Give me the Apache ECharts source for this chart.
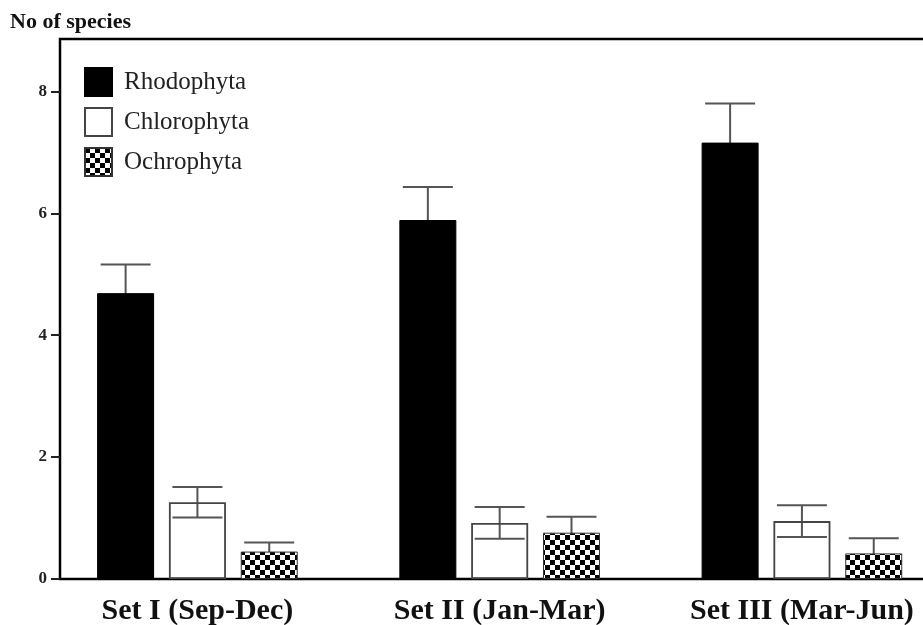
<!DOCTYPE html>
<html>
<head>
<meta charset="utf-8">
<script src="https://cdn.jsdelivr.net/npm/echarts@6/dist/echarts.min.js"></script>
<style>html,body{margin:0;padding:0;background:#fff}#c{width:923px;height:625px}</style>
</head>
<body>
<div id="c"></div>
<script>
// ---- data ----
const categories = ['Set I (Sep-Dec)', 'Set II (Jan-Mar)', 'Set III (Mar-Jun)'];
const seriesNames = ['Rhodophyta', 'Chlorophyta', 'Ochrophyta'];
const rhodophyta = [4.69, 5.89, 7.16];
const rhodophytaErr = [0.47, 0.54, 0.64];
const chlorophyta = [1.26, 0.92, 0.95];
const chlorophytaErr = [0.25, 0.26, 0.26];
const ochrophyta = [0.45, 0.76, 0.42];
const ochrophytaErr = [0.15, 0.26, 0.25];
const yTicks = [0, 2, 4, 6, 8];
const yMax = 8.86;

// ---- styling ----
const FONT = 'Liberation Serif';
const BAR_W = 57;
const BAR_GAP = '26%';

function checker() {
  const c = document.createElement('canvas');
  c.width = 10; c.height = 10;
  const g = c.getContext('2d');
  g.fillStyle = '#fff'; g.fillRect(0, 0, 10, 10);
  g.fillStyle = '#000';
  g.fillRect(0, 0, 5, 5);
  g.fillRect(5, 5, 5, 5);
  return c;
}
const checkerPattern = { image: checker(), repeat: 'repeat' };

function errSeries(k, values, errs) {
  return {
    type: 'custom',
    xAxisIndex: 1, yAxisIndex: 1,
    z: 1,
    silent: true,
    data: categories.map((c, i) => [i, values[i], errs[i]]),
    encode: { x: 0, y: 1 },
    renderItem: function (params, api) {
      const idx = api.value(0), v = api.value(1), e = api.value(2);
      const lay = api.barLayout({ barWidth: BAR_W, barGap: BAR_GAP, count: 3 });
      const off = lay[k].offsetCenter;
      const top = api.coord([idx, v + e]);
      const bot = api.coord([idx, v - e]);
      const x = top[0] + off;
      const half = 25;
      const st = { stroke: '#555', lineWidth: 2 };
      return {
        type: 'group',
        children: [
          { type: 'line', shape: { x1: x, y1: top[1], x2: x, y2: bot[1] }, style: st },
          { type: 'line', shape: { x1: x - half, y1: top[1], x2: x + half, y2: top[1] }, style: st },
          { type: 'line', shape: { x1: x - half, y1: bot[1], x2: x + half, y2: bot[1] }, style: st }
        ]
      };
    }
  };
}

const chart = echarts.init(document.getElementById('c'));
chart.setOption({
  backgroundColor: '#fff',
  animation: false,
  title: {
    text: 'No of species',
    left: 10, top: 11, padding: 0,
    textStyle: { fontFamily: FONT, fontWeight: 'bold', fontSize: 22, color: '#111' }
  },
  legend: {
    data: seriesNames,
    orient: 'vertical',
    left: 84, top: 67, padding: 0,
    itemWidth: 27, itemHeight: 28, itemGap: 10,
    icon: 'rect',
    textStyle: { fontFamily: FONT, fontSize: 25, color: '#222', lineHeight: 28, padding: [0, 0, 0, 7] }
  },
  grid: [
    { left: 60, top: 39, width: 900, bottom: 46, show: true, borderColor: '#000', borderWidth: 2.5,
      backgroundColor: 'transparent', outerBoundsMode: 'none', containLabel: false },
    { left: 46.3, top: 39, width: 906.75, bottom: 46, outerBoundsMode: 'none', containLabel: false }
  ],
  xAxis: [
    { type: 'value', gridIndex: 0, show: false, min: 0, max: 1 },
    {
      type: 'category', gridIndex: 1, data: categories,
      axisLine: { show: false }, axisTick: { show: false },
      axisLabel: { margin: 17, fontFamily: FONT, fontWeight: 'bold', fontSize: 30, color: '#111' }
    }
  ],
  yAxis: [
    {
      type: 'value', gridIndex: 0, min: 0, max: yMax,
      axisLine: { show: false },
      splitLine: { show: false },
      axisTick: { show: true, length: 9, customValues: yTicks, lineStyle: { color: '#222', width: 2 } },
      axisLabel: { customValues: yTicks, margin: 13, fontFamily: FONT, fontWeight: 'bold', fontSize: 17, color: '#222' }
    },
    { type: 'value', gridIndex: 1, min: 0, max: yMax, show: false }
  ],
  series: [
    {
      name: 'Rhodophyta', type: 'bar', xAxisIndex: 1, yAxisIndex: 1, z: 2,
      barWidth: BAR_W, barGap: BAR_GAP, data: rhodophyta,
      itemStyle: { color: '#000', borderColor: '#000', borderWidth: 1 }
    },
    {
      name: 'Chlorophyta', type: 'bar', xAxisIndex: 1, yAxisIndex: 1, z: 2,
      barWidth: BAR_W, barGap: BAR_GAP, data: chlorophyta,
      itemStyle: { color: 'rgba(255,255,255,0)', borderColor: '#444', borderWidth: 1.8 }
    },
    {
      name: 'Ochrophyta', type: 'bar', xAxisIndex: 1, yAxisIndex: 1, z: 2,
      barWidth: BAR_W, barGap: BAR_GAP, data: ochrophyta,
      itemStyle: { color: checkerPattern, borderColor: '#333', borderWidth: 1 }
    },
    errSeries(0, rhodophyta, rhodophytaErr),
    errSeries(1, chlorophyta, chlorophytaErr),
    errSeries(2, ochrophyta, ochrophytaErr)
  ]
});
</script>
</body>
</html>
